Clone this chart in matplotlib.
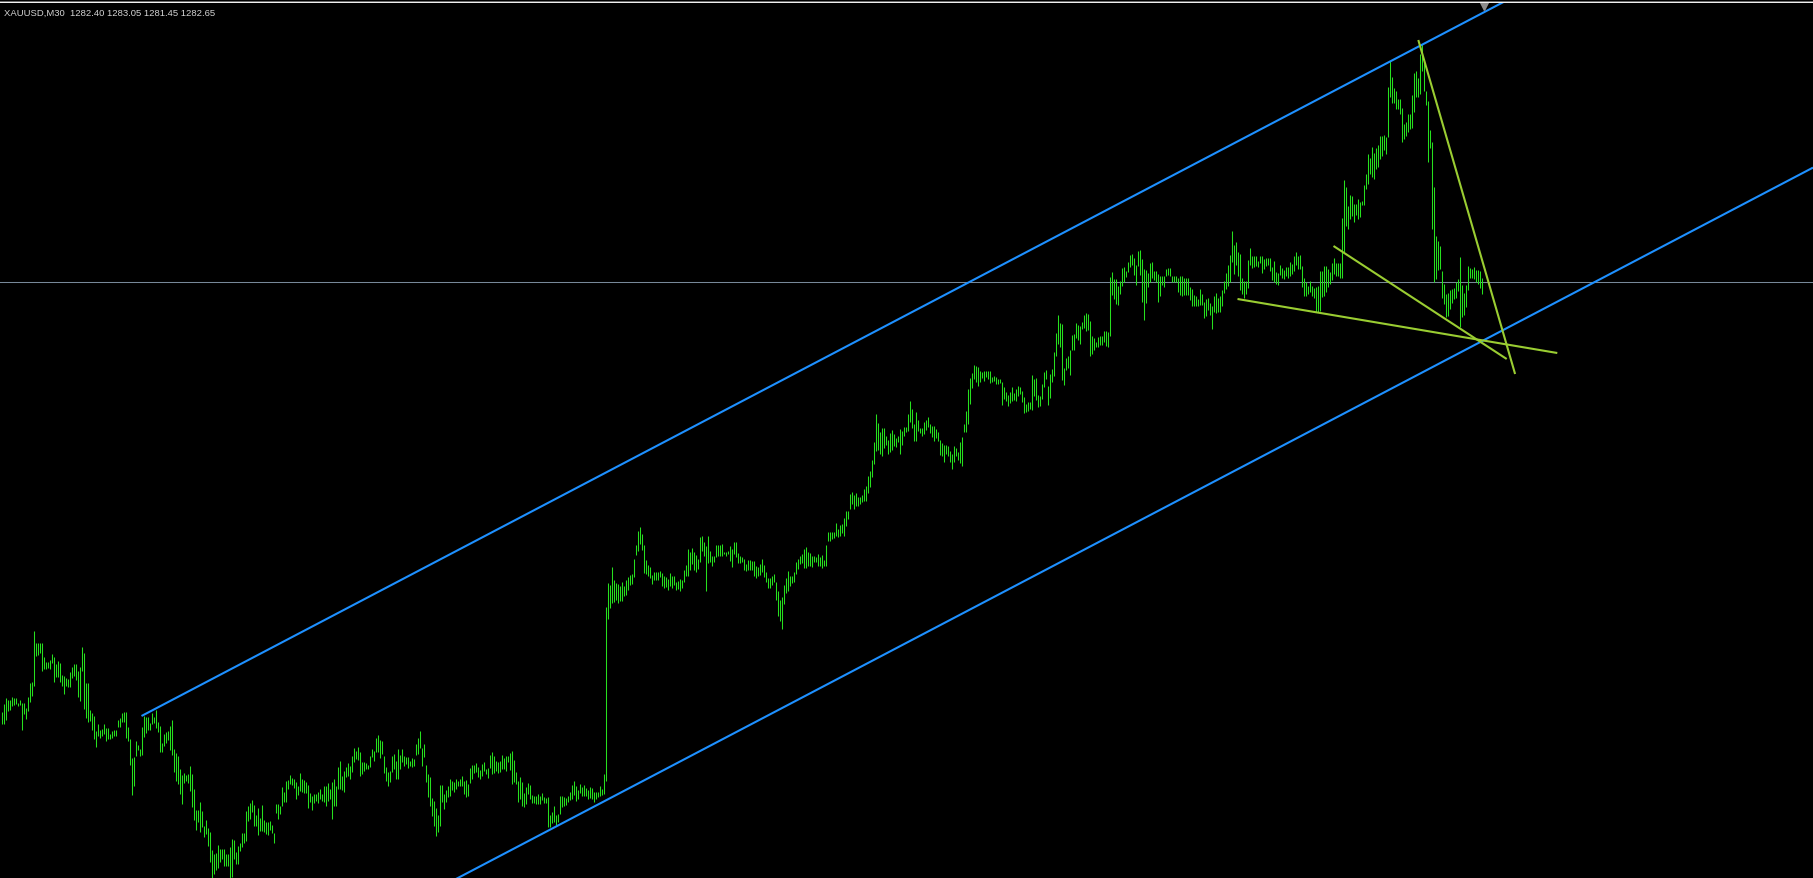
import matplotlib
matplotlib.use('Agg')
import matplotlib.pyplot as plt
from matplotlib.patches import Rectangle
import matplotlib.transforms as mtransforms

symbol = 'XAUUSD,M30'
last_ohlc = [1282.40, 1283.05, 1281.45, 1282.65]
bid = 1282.65

bar_high = [
    1239.6, 1240.4, 1241.0, 1240.8, 1240.8, 1241.1, 1241.0, 1241.0, 1240.5, 1240.8,
    1240.5, 1240.5, 1240.0, 1241.1, 1242.5, 1242.6, 1247.7, 1246.5, 1246.5, 1246.5,
    1246.5, 1245.1, 1244.6, 1244.6, 1244.8, 1245.4, 1245.1, 1244.4, 1244.7, 1244.5,
    1243.3, 1243.2, 1243.0, 1242.9, 1243.6, 1244.1, 1244.4, 1244.4, 1243.7, 1244.1,
    1246.1, 1245.5, 1242.5, 1242.5, 1239.8, 1239.5, 1239.2, 1237.7, 1238.4, 1237.8,
    1237.9, 1238.4, 1238.0, 1238.0, 1237.4, 1237.7, 1237.8, 1237.8, 1238.8, 1239.0,
    1239.5, 1239.6, 1239.6, 1238.1, 1236.9, 1235.0, 1235.1, 1236.7, 1236.3, 1235.9,
    1238.1, 1239.2, 1239.1, 1239.1, 1238.5, 1239.5, 1239.1, 1239.8, 1238.6, 1238.2,
    1236.5, 1237.4, 1237.6, 1237.7, 1238.2, 1238.8, 1235.9, 1235.5, 1235.2, 1233.9,
    1233.3, 1233.5, 1233.3, 1233.4, 1234.2, 1233.4, 1231.9, 1229.8, 1229.8, 1230.6,
    1229.7, 1228.2, 1228.8, 1228.0, 1227.6, 1225.8, 1225.4, 1225.5, 1226.3, 1225.9,
    1225.9, 1225.9, 1225.4, 1225.4, 1226.1, 1226.9, 1226.8, 1225.6, 1226.2, 1226.5,
    1227.5, 1227.5, 1229.7, 1230.2, 1230.5, 1230.8, 1230.3, 1229.3, 1230.0, 1229.0,
    1230.3, 1228.8, 1228.6, 1228.6, 1228.7, 1228.3, 1227.5, 1230.4, 1230.4, 1230.2,
    1232.1, 1231.6, 1232.7, 1232.8, 1233.3, 1233.0, 1232.9, 1232.6, 1232.2, 1233.5,
    1232.9, 1232.8, 1232.6, 1232.3, 1231.5, 1231.2, 1231.4, 1231.4, 1231.6, 1231.9,
    1231.4, 1232.2, 1232.2, 1232.5, 1231.9, 1232.6, 1232.9, 1232.2, 1234.1, 1234.7,
    1233.2, 1233.7, 1234.1, 1234.5, 1234.2, 1235.2, 1236.0, 1235.7, 1236.1, 1235.6,
    1234.6, 1234.6, 1234.5, 1234.3, 1235.2, 1235.9, 1235.7, 1237.0, 1237.3, 1236.8,
    1236.7, 1235.2, 1234.1, 1233.6, 1233.7, 1235.2, 1235.4, 1234.7, 1235.9, 1235.3,
    1235.9, 1235.2, 1235.1, 1235.1, 1234.7, 1235.0, 1234.9, 1236.4, 1237.0, 1237.7,
    1236.0, 1236.4, 1234.3, 1233.4, 1233.1, 1231.0, 1230.7, 1230.0, 1229.3, 1232.3,
    1232.3, 1231.4, 1231.8, 1232.2, 1232.9, 1232.7, 1232.6, 1232.9, 1232.7, 1232.9,
    1233.2, 1232.7, 1232.8, 1232.4, 1234.0, 1234.3, 1234.3, 1234.5, 1234.1, 1233.8,
    1234.4, 1234.6, 1233.9, 1234.0, 1235.3, 1235.6, 1235.2, 1234.7, 1234.6, 1234.7,
    1235.3, 1235.0, 1235.2, 1235.2, 1235.5, 1235.7, 1234.8, 1233.6, 1232.7, 1233.1,
    1232.6, 1231.5, 1232.1, 1232.5, 1232.3, 1231.3, 1231.2, 1231.2, 1231.4, 1231.2,
    1231.5, 1231.1, 1231.0, 1231.1, 1229.3, 1229.6, 1230.2, 1229.3, 1229.4, 1231.2,
    1231.2, 1231.1, 1231.0, 1231.2, 1231.6, 1232.3, 1232.7, 1232.2, 1231.8, 1232.4,
    1232.1, 1232.3, 1232.0, 1231.8, 1232.1, 1232.0, 1231.6, 1231.6, 1231.6, 1232.2,
    1231.9, 1233.4, 1250.1, 1252.5, 1252.3, 1254.1, 1252.8, 1252.5, 1252.4, 1252.2,
    1252.6, 1252.2, 1252.8, 1253.1, 1253.3, 1253.4, 1254.9, 1256.3, 1257.7, 1258.1,
    1257.4, 1256.3, 1254.8, 1254.3, 1254.1, 1253.3, 1253.6, 1253.6, 1253.6, 1253.7,
    1253.5, 1253.2, 1253.1, 1252.9, 1253.5, 1253.2, 1253.2, 1252.6, 1252.7, 1252.9,
    1252.8, 1253.8, 1254.3, 1255.9, 1255.6, 1256.0, 1255.6, 1255.3, 1254.9, 1257.1,
    1257.2, 1256.6, 1256.2, 1257.2, 1255.7, 1255.2, 1255.2, 1256.3, 1256.3, 1256.3,
    1256.4, 1255.6, 1255.6, 1255.7, 1256.2, 1255.9, 1256.6, 1256.6, 1255.5, 1255.2,
    1255.1, 1254.9, 1254.4, 1254.8, 1254.8, 1254.7, 1254.7, 1254.2, 1254.1, 1254.4,
    1254.9, 1254.3, 1253.6, 1253.0, 1253.0, 1253.2, 1253.4, 1252.6, 1251.7, 1250.8,
    1251.1, 1252.3, 1253.0, 1253.7, 1253.2, 1253.2, 1253.6, 1254.6, 1254.9, 1255.2,
    1255.4, 1255.9, 1256.1, 1255.6, 1255.5, 1255.2, 1255.2, 1255.1, 1255.4, 1255.1,
    1255.3, 1254.8, 1256.3, 1257.6, 1257.6, 1257.6, 1257.6, 1258.5, 1257.9, 1258.3,
    1258.4, 1259.0, 1259.7, 1259.7, 1261.4, 1261.6, 1261.3, 1261.5, 1261.1, 1261.1,
    1261.3, 1261.9, 1262.2, 1263.2, 1263.7, 1264.8, 1266.6, 1269.4, 1268.5, 1267.6,
    1268.0, 1268.0, 1267.2, 1266.8, 1267.5, 1267.8, 1267.4, 1267.0, 1267.2, 1267.9,
    1267.7, 1268.1, 1268.1, 1269.4, 1270.7, 1269.9, 1268.4, 1269.6, 1268.8, 1268.0,
    1268.0, 1268.6, 1268.8, 1269.1, 1268.4, 1268.2, 1268.2, 1267.9, 1267.6, 1266.8,
    1266.5, 1266.3, 1266.3, 1266.2, 1265.7, 1265.4, 1266.2, 1266.0, 1265.6, 1266.6,
    1267.1, 1268.4, 1269.7, 1271.9, 1273.0, 1273.5, 1274.3, 1274.2, 1274.1, 1273.7,
    1273.6, 1273.7, 1273.7, 1273.7, 1273.7, 1273.1, 1273.2, 1273.1, 1272.9, 1272.9,
    1272.6, 1272.1, 1271.6, 1271.3, 1271.6, 1272.1, 1271.5, 1271.9, 1272.2, 1272.1,
    1271.7, 1271.1, 1270.4, 1270.6, 1270.6, 1273.3, 1272.9, 1273.0, 1271.3, 1271.2,
    1272.4, 1273.6, 1273.8, 1272.2, 1273.4, 1273.9, 1275.6, 1277.5, 1279.3, 1278.5,
    1278.4, 1274.0, 1275.0, 1275.2, 1275.8, 1277.3, 1277.4, 1278.5, 1278.3, 1278.2,
    1278.6, 1279.3, 1279.5, 1279.4, 1278.7, 1277.2, 1277.0, 1276.6, 1277.1, 1277.2,
    1277.2, 1277.7, 1277.7, 1277.6, 1283.1, 1283.6, 1282.9, 1282.9, 1282.2, 1282.7,
    1284.0, 1284.1, 1283.7, 1284.6, 1285.3, 1285.4, 1285.0, 1284.3, 1285.7, 1285.8,
    1284.9, 1283.9, 1283.8, 1283.5, 1284.5, 1284.6, 1283.7, 1283.7, 1283.4, 1283.2,
    1283.2, 1283.2, 1283.9, 1284.0, 1284.0, 1283.2, 1283.2, 1283.2, 1283.0, 1283.2,
    1283.2, 1283.0, 1283.0, 1283.0, 1282.1, 1281.9, 1281.3, 1281.2, 1280.9, 1281.9,
    1281.4, 1280.6, 1280.9, 1281.0, 1280.5, 1280.2, 1281.2, 1281.5, 1281.0, 1281.2,
    1281.8, 1282.7, 1283.5, 1284.3, 1285.3, 1287.7, 1286.3, 1286.6, 1285.6, 1285.4,
    1283.0, 1282.7, 1282.7, 1284.8, 1286.0, 1285.2, 1285.2, 1285.2, 1284.7, 1285.2,
    1285.2, 1284.9, 1285.0, 1285.0, 1285.0, 1284.1, 1284.7, 1283.6, 1283.5, 1284.3,
    1284.0, 1283.8, 1284.1, 1284.1, 1284.6, 1284.4, 1285.2, 1285.6, 1285.2, 1285.3,
    1284.2, 1283.0, 1282.6, 1282.2, 1282.7, 1282.2, 1282.0, 1282.1, 1282.2, 1283.7,
    1283.7, 1284.2, 1284.2, 1283.9, 1283.6, 1284.5, 1285.0, 1284.5, 1284.5, 1284.5,
    1289.0, 1292.8, 1292.1, 1290.2, 1291.3, 1291.2, 1290.4, 1290.4, 1290.9, 1290.6,
    1290.7, 1292.3, 1293.4, 1295.4, 1295.0, 1296.1, 1295.5, 1296.0, 1296.3, 1297.2,
    1297.2, 1297.3, 1297.1, 1302.1, 1304.7, 1303.1, 1302.0, 1301.7, 1300.9, 1300.9,
    1300.0, 1298.4, 1298.6, 1299.4, 1299.4, 1301.3, 1303.5, 1303.7, 1303.0, 1305.4,
    1306.4, 1304.9, 1301.7, 1300.7, 1297.8, 1296.6, 1292.1, 1287.2, 1286.7, 1286.2,
    1283.7, 1282.4, 1281.4, 1281.5, 1281.8, 1281.9, 1282.0, 1282.6, 1282.9, 1285.1,
    1282.3, 1281.5, 1282.3, 1284.2, 1284.0, 1283.9, 1284.1, 1283.8, 1283.8, 1283.7,
    1283.05,
]

bar_low = [
    1238.4, 1238.4, 1238.8, 1239.7, 1239.8, 1240.2, 1240.3, 1240.4, 1240.2, 1240.3,
    1237.8, 1239.4, 1238.9, 1239.7, 1240.6, 1241.2, 1242.2, 1245.2, 1245.3, 1245.5,
    1243.7, 1243.9, 1243.9, 1244.0, 1243.9, 1244.5, 1242.6, 1243.1, 1243.1, 1242.6,
    1242.2, 1241.4, 1242.2, 1242.1, 1242.1, 1243.0, 1243.2, 1242.8, 1241.1, 1240.7,
    1243.7, 1239.9, 1239.0, 1238.6, 1238.7, 1237.8, 1236.9, 1236.1, 1237.2, 1237.0,
    1237.2, 1237.4, 1236.7, 1236.9, 1236.9, 1237.0, 1237.2, 1237.2, 1238.1, 1238.1,
    1238.6, 1238.6, 1237.0, 1236.7, 1234.3, 1231.3, 1232.2, 1235.2, 1235.8, 1235.2,
    1235.3, 1237.1, 1237.5, 1237.8, 1237.8, 1238.4, 1238.5, 1238.0, 1237.6, 1235.6,
    1235.6, 1236.2, 1236.5, 1236.8, 1235.8, 1235.3, 1233.6, 1232.7, 1232.4, 1231.4,
    1230.4, 1232.5, 1232.7, 1232.5, 1231.7, 1230.1, 1228.8, 1227.8, 1228.6, 1227.6,
    1228.1, 1227.1, 1227.4, 1226.2, 1224.6, 1222.5, 1223.4, 1223.8, 1224.0, 1224.6,
    1224.9, 1224.2, 1224.2, 1224.2, 1222.5, 1223.1, 1224.9, 1224.4, 1224.4, 1225.7,
    1226.1, 1226.5, 1226.7, 1228.7, 1228.9, 1229.6, 1228.2, 1228.2, 1227.3, 1227.7,
    1227.7, 1227.6, 1227.4, 1227.3, 1227.8, 1227.5, 1226.5, 1229.5, 1228.9, 1229.4,
    1230.2, 1230.6, 1230.6, 1231.9, 1232.4, 1232.3, 1232.0, 1230.9, 1231.3, 1231.7,
    1231.6, 1231.5, 1231.5, 1230.0, 1230.6, 1229.8, 1230.5, 1230.7, 1230.5, 1230.9,
    1230.7, 1230.6, 1230.2, 1230.7, 1230.9, 1228.9, 1230.2, 1230.2, 1231.9, 1231.9,
    1231.8, 1231.6, 1233.1, 1233.2, 1232.9, 1233.6, 1234.6, 1234.9, 1234.8, 1233.2,
    1233.4, 1233.7, 1233.9, 1233.9, 1234.1, 1235.1, 1234.7, 1235.6, 1235.6, 1235.0,
    1235.4, 1233.5, 1232.7, 1232.2, 1232.6, 1233.6, 1233.9, 1232.9, 1232.9, 1233.9,
    1234.6, 1234.2, 1234.4, 1234.0, 1234.2, 1234.1, 1234.2, 1235.3, 1235.4, 1236.0,
    1234.2, 1235.1, 1232.6, 1231.1, 1230.2, 1229.2, 1228.2, 1227.2, 1227.6, 1228.2,
    1230.6, 1229.9, 1230.6, 1231.1, 1231.2, 1231.8, 1231.6, 1231.9, 1232.2, 1232.2,
    1232.2, 1231.4, 1231.1, 1231.2, 1232.5, 1232.9, 1233.5, 1233.6, 1233.1, 1232.9,
    1233.2, 1233.7, 1233.4, 1233.0, 1234.0, 1233.4, 1233.5, 1233.7, 1233.5, 1233.6,
    1233.9, 1233.9, 1233.7, 1234.6, 1233.8, 1232.4, 1232.6, 1232.4, 1230.6, 1230.9,
    1230.2, 1230.1, 1230.4, 1231.4, 1230.9, 1230.5, 1230.5, 1230.4, 1230.4, 1230.4,
    1230.8, 1230.5, 1230.5, 1228.1, 1228.1, 1228.5, 1228.6, 1228.3, 1228.6, 1229.4,
    1230.1, 1230.2, 1230.3, 1230.6, 1230.8, 1230.9, 1231.3, 1230.7, 1230.9, 1231.5,
    1231.2, 1231.2, 1231.2, 1230.9, 1231.0, 1230.9, 1230.6, 1230.9, 1231.1, 1231.2,
    1231.3, 1231.4, 1232.7, 1248.9, 1250.0, 1250.5, 1250.6, 1250.8, 1250.5, 1250.7,
    1250.7, 1251.2, 1251.3, 1251.8, 1252.3, 1252.4, 1253.1, 1255.3, 1255.7, 1256.4,
    1255.8, 1253.5, 1253.4, 1253.2, 1253.0, 1252.4, 1252.8, 1252.8, 1252.8, 1253.1,
    1252.2, 1252.0, 1252.1, 1251.8, 1252.2, 1252.0, 1252.3, 1251.8, 1251.9, 1251.7,
    1252.0, 1252.6, 1253.2, 1253.2, 1253.8, 1254.4, 1253.8, 1253.6, 1253.9, 1254.6,
    1255.7, 1255.2, 1251.7, 1254.5, 1254.6, 1254.2, 1254.6, 1255.1, 1255.2, 1255.2,
    1255.2, 1255.4, 1255.2, 1255.4, 1254.7, 1254.1, 1255.4, 1255.1, 1254.5, 1254.5,
    1254.6, 1253.8, 1253.7, 1253.8, 1253.8, 1253.8, 1253.2, 1253.0, 1253.2, 1253.3,
    1253.6, 1253.1, 1252.6, 1252.0, 1252.0, 1252.3, 1252.6, 1250.8, 1249.2, 1248.7,
    1247.9, 1250.4, 1251.5, 1251.7, 1252.2, 1252.5, 1252.6, 1253.4, 1253.9, 1254.4,
    1254.5, 1254.0, 1254.0, 1254.2, 1254.2, 1254.1, 1254.6, 1254.6, 1254.2, 1254.2,
    1254.0, 1254.2, 1254.2, 1256.7, 1256.7, 1256.9, 1257.0, 1257.2, 1257.1, 1257.2,
    1257.5, 1257.2, 1258.2, 1258.9, 1259.9, 1260.4, 1259.9, 1260.2, 1260.2, 1260.4,
    1260.6, 1260.7, 1260.7, 1261.5, 1262.1, 1263.1, 1264.4, 1265.7, 1265.8, 1265.4,
    1265.2, 1266.0, 1266.3, 1265.4, 1265.6, 1265.8, 1266.2, 1266.1, 1266.6, 1265.4,
    1266.3, 1267.2, 1267.6, 1267.7, 1268.6, 1268.0, 1266.7, 1266.7, 1267.7, 1267.5,
    1267.2, 1267.4, 1267.8, 1268.1, 1267.5, 1267.1, 1266.7, 1267.0, 1266.7, 1265.3,
    1265.2, 1264.6, 1265.4, 1265.2, 1264.6, 1263.9, 1264.6, 1265.2, 1264.8, 1264.5,
    1264.2, 1267.6, 1267.6, 1268.4, 1270.4, 1272.0, 1272.9, 1272.6, 1272.2, 1272.6,
    1273.0, 1272.7, 1273.1, 1272.9, 1272.5, 1272.6, 1272.7, 1272.4, 1272.4, 1272.5,
    1270.3, 1270.9, 1270.7, 1270.2, 1270.5, 1270.7, 1270.8, 1270.7, 1271.2, 1271.4,
    1270.6, 1269.5, 1269.6, 1269.7, 1269.9, 1269.8, 1271.2, 1270.8, 1270.1, 1270.2,
    1270.9, 1272.1, 1272.9, 1270.3, 1271.0, 1272.6, 1273.2, 1275.2, 1276.4, 1276.1,
    1272.8, 1272.3, 1273.8, 1274.0, 1273.3, 1275.8, 1275.8, 1277.0, 1276.8, 1276.4,
    1277.9, 1278.0, 1277.7, 1277.8, 1275.2, 1275.4, 1275.8, 1276.1, 1276.1, 1276.3,
    1276.3, 1276.6, 1276.2, 1276.1, 1277.2, 1281.3, 1280.9, 1280.4, 1280.3, 1281.4,
    1282.2, 1282.6, 1283.1, 1283.6, 1284.1, 1284.3, 1283.3, 1282.3, 1284.2, 1283.3,
    1280.6, 1278.8, 1280.5, 1282.1, 1282.6, 1283.0, 1282.8, 1282.6, 1280.6, 1281.2,
    1282.3, 1282.1, 1283.2, 1283.3, 1283.2, 1282.6, 1282.6, 1282.6, 1281.6, 1281.3,
    1281.2, 1281.3, 1281.3, 1281.3, 1280.8, 1280.2, 1280.2, 1280.2, 1280.2, 1280.3,
    1280.3, 1279.0, 1279.2, 1279.8, 1279.3, 1277.9, 1279.6, 1279.5, 1279.6, 1279.6,
    1280.2, 1281.5, 1281.9, 1282.2, 1282.6, 1284.6, 1283.4, 1284.3, 1283.2, 1281.8,
    1281.4, 1281.0, 1281.4, 1282.0, 1284.3, 1284.0, 1284.1, 1284.2, 1284.1, 1284.5,
    1283.5, 1283.9, 1284.2, 1284.3, 1283.7, 1282.8, 1282.6, 1282.4, 1282.3, 1283.3,
    1283.0, 1282.9, 1283.2, 1283.0, 1283.2, 1283.4, 1283.7, 1284.3, 1283.9, 1283.9,
    1282.1, 1281.2, 1281.2, 1281.4, 1281.6, 1281.2, 1281.0, 1279.6, 1279.6, 1279.7,
    1281.1, 1281.2, 1281.6, 1282.1, 1282.4, 1282.8, 1283.4, 1283.2, 1283.2, 1283.0,
    1283.0, 1285.5, 1288.2, 1287.9, 1288.9, 1289.2, 1288.6, 1289.3, 1288.9, 1289.1,
    1290.3, 1290.3, 1291.9, 1292.4, 1293.4, 1293.1, 1292.9, 1293.9, 1294.1, 1294.9,
    1295.2, 1295.8, 1295.4, 1297.1, 1301.1, 1300.5, 1300.5, 1299.9, 1299.9, 1299.4,
    1296.6, 1296.9, 1297.2, 1297.6, 1297.9, 1298.0, 1299.6, 1301.1, 1301.1, 1301.4,
    1303.7, 1301.7, 1300.3, 1294.6, 1296.0, 1287.9, 1282.6, 1282.9, 1283.8, 1283.9,
    1281.0, 1280.4, 1279.1, 1279.2, 1279.9, 1280.5, 1280.9, 1281.0, 1281.7, 1278.1,
    1279.1, 1279.3, 1280.1, 1281.8, 1283.0, 1283.0, 1282.9, 1282.6, 1282.4, 1282.0,
    1281.45,
]

# equidistant channel: two points on the upper line, one on the lower line
chan_x = [70, 710, 273]
chan_y = [1239.2, 1306.3, 1227.7]

# yellow trend lines (start / end)
trend_x0 = [708.4, 666, 618]
trend_y0 = [1306.8, 1286.2, 1280.9]
trend_x1 = [756.8, 752.6, 777.9]
trend_y1 = [1273.4, 1274.9, 1275.5]

W, H = 1813, 879
fig = plt.figure(figsize=(W / 100, H / 100), dpi=100, facecolor='black')
ax = fig.add_axes([0, 0, 1, (H - 4) / H])
ax.set_facecolor('black')
ax.axis('off')

xmax = -0.75 + W / 2
ax.set_xlim(-0.75, xmax)
ax.set_ylim(1223.0, 1310.5)

idx = list(range(len(bar_high)))
ax.vlines(idx, bar_low, bar_high, colors='#26e01e', linewidth=0.75, zorder=3)

ax.axhline(bid, color='#778899', linewidth=0.75, zorder=2)

slope = (chan_y[1] - chan_y[0]) / (chan_x[1] - chan_x[0])
up_end = chan_y[0] + slope * (xmax - chan_x[0])
shift = chan_y[2] - (chan_y[0] + slope * (chan_x[2] - chan_x[0]))
ax.plot([chan_x[0], xmax], [chan_y[0], up_end], color='#1e90ff', lw=1.5,
        solid_capstyle='butt', zorder=4)
ax.plot([chan_x[0], xmax], [chan_y[0] + shift, up_end + shift], color='#1e90ff',
        lw=1.5, solid_capstyle='butt', zorder=4)

for a, b, c, d in zip(trend_x0, trend_y0, trend_x1, trend_y1):
    ax.plot([a, c], [b, d], color='#9acd32', lw=1.5, solid_capstyle='butt', zorder=5)

# chart shift marker
trans = mtransforms.blended_transform_factory(ax.transData, ax.transAxes)
ax.plot([len(bar_high)], [1.0 - 2.3 / (H - 4)], marker='v', ms=6.5, color='#8c8c8c',
        transform=trans, clip_on=False, zorder=6)

# window frame at the top
for k, col in enumerate(['#b4b4b4', '#000000', '#696969', '#f0f0f0']):
    fig.add_artist(Rectangle((0, 1 - (k + 1) / H), 1, 1 / H, transform=fig.transFigure,
                             facecolor=col, edgecolor='none'))

header = symbol + '  ' + ' '.join('%.2f' % v for v in last_ohlc)
fig.text(4 / W, 1 - 15.7 / H, header, color='#d4d4d4', fontsize=6.8,
         family=['Liberation Sans', 'DejaVu Sans'], va='baseline', ha='left')

fig.savefig('out.png', dpi=100, facecolor='black')
